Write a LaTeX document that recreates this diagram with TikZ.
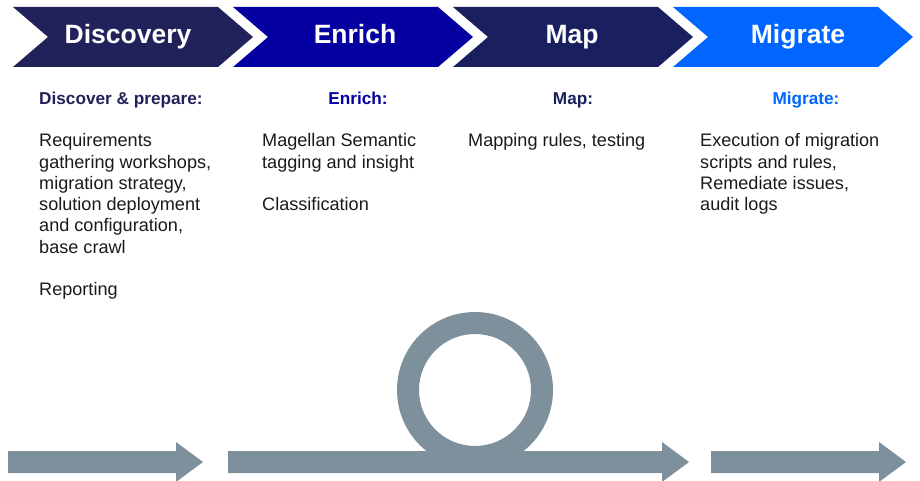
\documentclass[tikz,border=0pt]{standalone}
\usepackage{fontspec}
\setmainfont{Liberation Sans}
\definecolor{cdisc}{HTML}{22225A}
\definecolor{cenr}{HTML}{0500A0}
\definecolor{cmap}{HTML}{1A205E}
\definecolor{cmig}{HTML}{0066FF}
\definecolor{cgray}{HTML}{7E909C}
\definecolor{ctext}{HTML}{1A1A1A}
\tikzset{
  chevtitle/.style={anchor=base, text=white, font=\fontsize{26.5}{30}\selectfont\bfseries, inner sep=0pt},
  headtxt/.style={anchor=base, font=\fontsize{17.2}{21.3}\selectfont\bfseries, inner sep=0pt},
  bodytxt/.style={anchor=base west, align=left, text=ctext, font=\fontsize{18.1}{21.3}\selectfont, inner sep=0pt},
}
\newcommand{\chevronpath}[2]{% x0, color
  \fill[#2] (#1,7) -- ++(205,0) -- ++(35,30) -- ++(-35,30) -- ++(-205,0) -- ++(35,-30) -- cycle;}
\newcommand{\grayarrow}[2]{% start, headbase
  \fill[cgray] (#1,451) -- (#2,451) -- (#2,442) -- ({#2+27},462) -- (#2,482) -- (#2,473) -- (#1,473) -- cycle;}
\begin{document}
\begin{tikzpicture}[x=1pt,y=-1pt]
\useasboundingbox (0,0) rectangle (920,481);
% chevrons
\chevronpath{13}{cdisc}
\chevronpath{233}{cenr}
\chevronpath{453}{cmap}
\chevronpath{673}{cmig}
\node[chevtitle] (t1) at (128,44) {Discovery};
\node[chevtitle] (t2) at (355,44) {Enrich};
\node[chevtitle] (t3) at (572,44) {Map};
\node[chevtitle] (t4) at (798,44) {Migrate};
% headings
\node[headtxt, anchor=base west, text=cdisc] (h1) at (39,105) {Discover \& prepare:};
\node[headtxt, text=cenr] (h2) at (358,105) {Enrich:};
\node[headtxt, text=cmap] (h3) at (573,105) {Map:};
\node[headtxt, text=cmig] (h4) at (806,105) {Migrate:};
% bodies (anchor base = baseline of last line)
\node[bodytxt] (b1) at (39,295.8) {Requirements\\gathering workshops,\\migration strategy,\\solution deployment\\and configuration,\\base crawl\\[21.3pt]Reporting};
\node[bodytxt] (b2) at (262,210.6) {Magellan Semantic\\tagging and insight\\[21.3pt]Classification};
\node[bodytxt] (b3) at (468,146.7) {Mapping rules, testing};
\node[bodytxt] (b4) at (700,210.6) {Execution of migration\\scripts and rules,\\Remediate issues,\\audit logs};
% bottom arrows and loop
\fill[cgray, even odd rule] (475,390) circle[radius=78] (475,390) circle[radius=56];
\grayarrow{8}{176}
\grayarrow{228}{662}
\grayarrow{711}{879}
\end{tikzpicture}
\end{document}
